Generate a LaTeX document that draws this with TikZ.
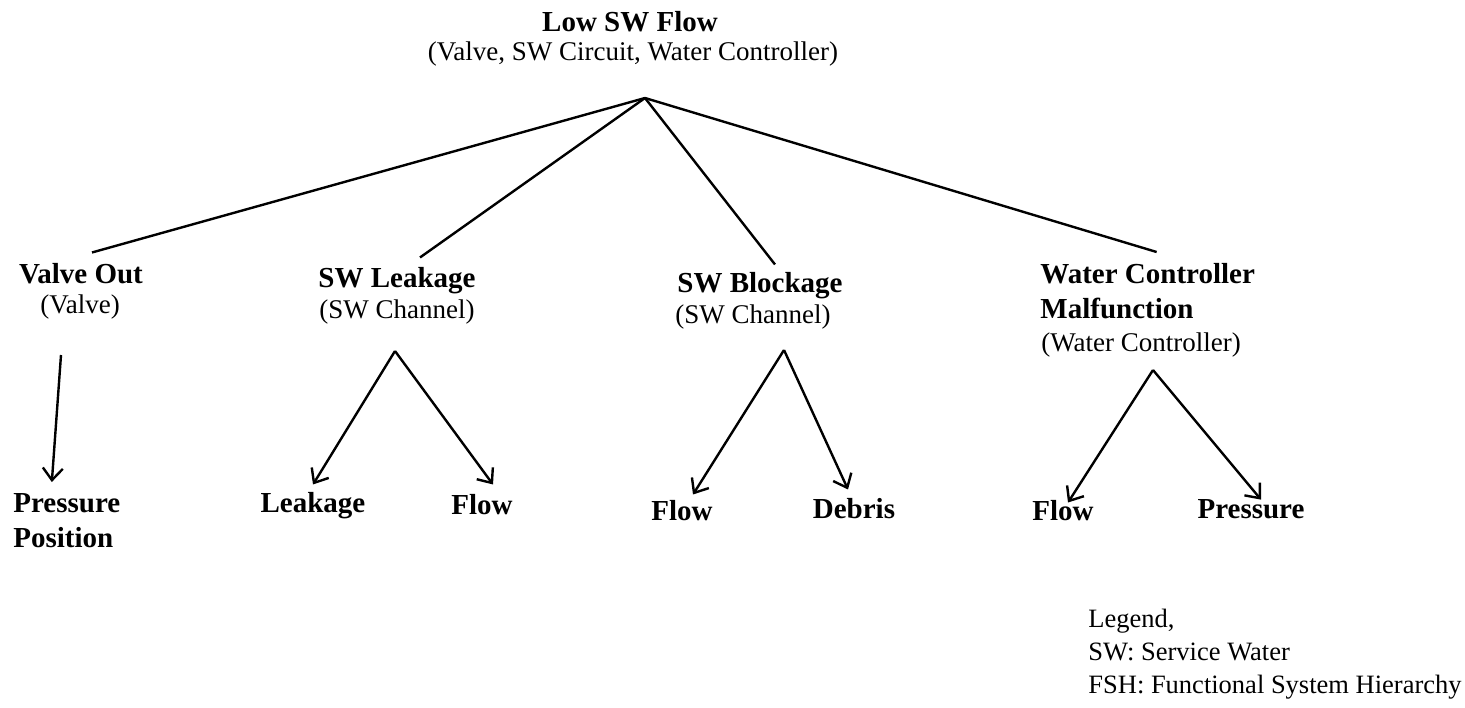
\documentclass[tikz,border=0pt]{standalone}
\usepackage{fontspec}
\setmainfont{Liberation Serif}
\usepackage{tikz}
\usetikzlibrary{arrows.meta}

\tikzset{
  headtext/.style={font=\bfseries\fontsize{14.5}{17.5}\selectfont, inner sep=0pt, anchor=base},
  subtext/.style={font=\fontsize{13.5}{16.5}\selectfont, inner sep=0pt, anchor=base},
  link/.style={line width=1.2pt},
  arr/.style={line width=1.2pt, -{Straight Barb[length=6pt,width=10pt]}}
}

\begin{document}
\begin{tikzpicture}[x=0.5pt, y=-0.5pt]
    \useasboundingbox (0,0) rectangle (1465,707);

    \node[headtext] (low) at (630,31) {Low SW Flow};
    \node[subtext] (lowsub) at (633,60) {(Valve, SW Circuit, Water Controller)};
    \coordinate (lowjoin) at (645,98);

    \node[headtext] (valve) at (81,283) {Valve Out};
    \node[subtext] (valvesub) at (80,313) {(Valve)};
    \node[headtext] (leak) at (397,287) {SW Leakage};
    \node[subtext] (leaksub) at (397,318) {(SW Channel)};
    \node[headtext] (block) at (760,292) {SW Blockage};
    \node[subtext] (blocksub) at (753,323) {(SW Channel)};
    \node[headtext, anchor=north west, align=left] (ctrl) at (1040,263) {Water Controller\\Malfunction};
    \node[subtext] (ctrlsub) at (1141,351) {(Water Controller)};

    \draw[link] (lowjoin) -- ([xshift=5.5pt,yshift=5pt]valve.north);
    \draw[link] (lowjoin) -- ([xshift=11.5pt,yshift=4.5pt]leak.north);
    \draw[link] (lowjoin) -- ([xshift=7.5pt,yshift=3.5pt]block.north);
    \draw[link] (lowjoin) -- ([xshift=4.5pt,yshift=5.5pt]ctrl.north);

    \node[headtext, anchor=north west, align=left] (valveleaf) at (13,493) {Pressure\\Position};
    \node[headtext] (leakage) at (313,512) {Leakage};
    \node[headtext] (leakflow) at (482,514) {Flow};
    \node[headtext] (blockflow) at (682,520) {Flow};
    \node[headtext] (debris) at (854,518) {Debris};
    \node[headtext] (ctrlflow) at (1063,520) {Flow};
    \node[headtext] (ctrlpres) at (1251,518) {Pressure};

    \coordinate (valvejoin) at (61,355);
    \coordinate (leakjoin) at (395,351);
    \coordinate (blockjoin) at (784,350);
    \coordinate (ctrljoin) at (1153,370);

    \draw[arr] (valvejoin) -- ([xshift=-7.5pt,yshift=5.5pt]valveleaf.north);
    \draw[arr] (leakjoin) -- ([yshift=3.5pt]leakage.north);
    \draw[arr] (leakjoin) -- ([xshift=5.5pt,yshift=4.5pt]leakflow.north);
    \draw[arr] (blockjoin) -- ([xshift=5.5pt,yshift=2.5pt]blockflow.north);
    \draw[arr] (blockjoin) -- ([xshift=-3pt,yshift=4pt]debris.north);
    \draw[arr] (ctrljoin) -- ([xshift=2.5pt,yshift=-1.5pt]ctrlflow.north);
    \draw[arr] (ctrljoin) -- ([xshift=5pt,yshift=-0.5pt]ctrlpres.north);

    \node[subtext, font=\fontsize{13.25}{16.5}\selectfont, anchor=north west, align=left] (legend) at (1088,609)
      {Legend,\\SW: Service Water\\FSH: Functional System Hierarchy};
\end{tikzpicture}
\end{document}
